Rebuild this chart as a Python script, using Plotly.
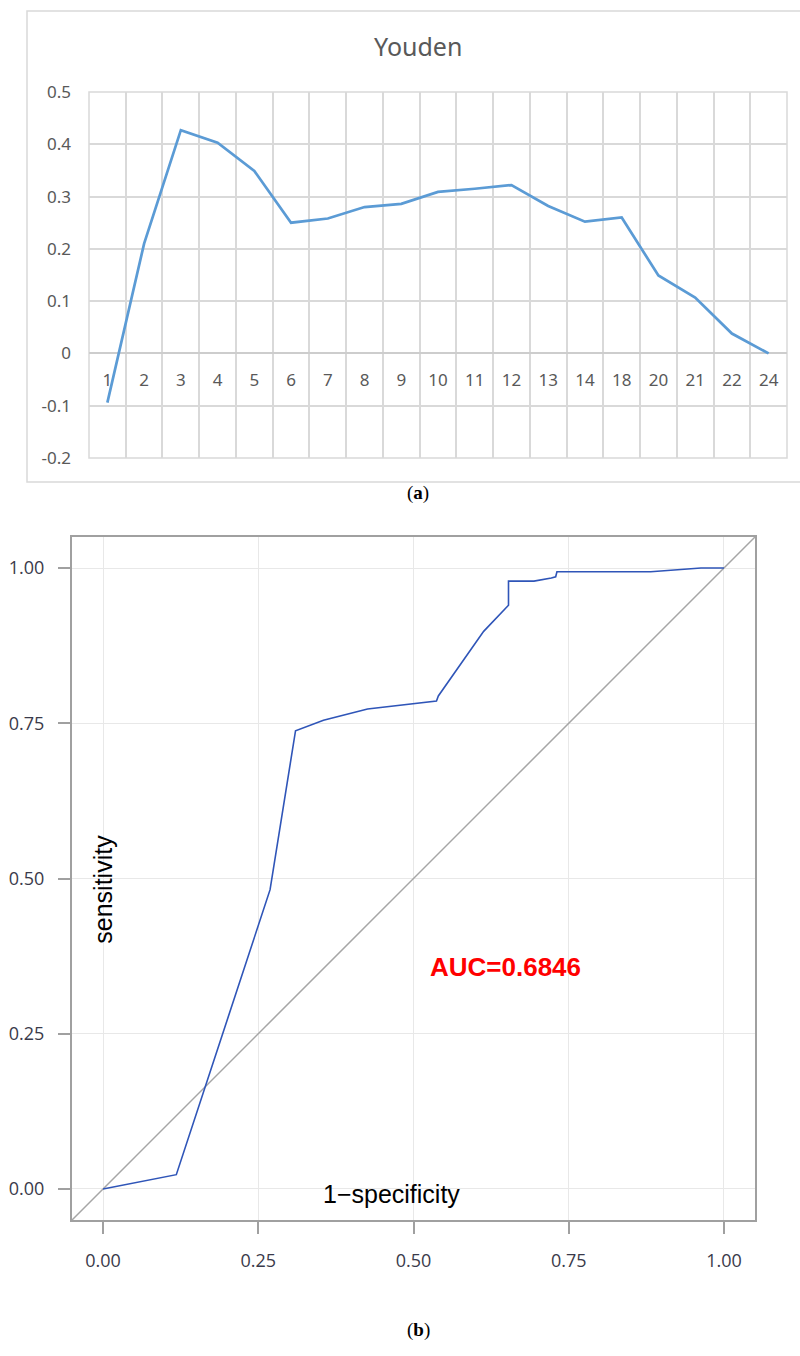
import plotly.graph_objects as go

# ---- Youden chart data ----
youden_cats = ["1", "2", "3", "4", "5", "6", "7", "8", "9", "10", "11", "12",
               "13", "14", "18", "20", "21", "22", "24"]
youden_vals = [-0.094, 0.21, 0.427, 0.403, 0.349, 0.25, 0.258, 0.28, 0.286,
               0.309, 0.315, 0.322, 0.282, 0.252, 0.26, 0.149, 0.107, 0.038, 0.0]
youden_yticks = [0.5, 0.4, 0.3, 0.2, 0.1, 0.0, -0.1, -0.2]
youden_yticktext = ["0.5", "0.4", "0.3", "0.2", "0.1", "0", "-0.1", "-0.2"]

# ---- ROC data ----
roc_fpr = [0, 0.118, 0.269, 0.310, 0.355, 0.426, 0.537, 0.540, 0.613, 0.653,
           0.653, 0.694, 0.722, 0.729, 0.731, 0.847, 0.882, 0.963, 1.0]
roc_tpr = [0, 0.023, 0.482, 0.738, 0.755, 0.773, 0.786, 0.794, 0.898, 0.940,
           0.979, 0.979, 0.984, 0.986, 0.994, 0.994, 0.994, 1.0, 1.0]
diag = [-0.05, 1.05]
roc_ticks = [0.0, 0.25, 0.5, 0.75, 1.0]
roc_ticktext = ["0.00", "0.25", "0.50", "0.75", "1.00"]

W, H = 800, 1356

def px_x(p):
    return p / W

def px_y(p):
    return 1 - p / H

fig = go.Figure()

fig.add_trace(go.Scatter(x=youden_cats, y=youden_vals, mode="lines",
                         line=dict(color="#5B9BD5", width=2.7),
                         xaxis="x", yaxis="y", showlegend=False))

fig.add_trace(go.Scatter(x=diag, y=diag, mode="lines",
                         line=dict(color="#A6A6A6", width=1.5),
                         xaxis="x2", yaxis="y2", showlegend=False))
fig.add_trace(go.Scatter(x=roc_fpr, y=roc_tpr, mode="lines",
                         line=dict(color="#2F55B8", width=1.6),
                         xaxis="x2", yaxis="y2", showlegend=False))

top_y0, top_y1 = px_y(458), px_y(92)
zero_pos = top_y0 + (0.2 / 0.7) * (top_y1 - top_y0)

grid_top = "#D9D9D9"
tick_font_top = dict(family="Noto Sans", size=17, color="#595959")
tick_font_roc = dict(family="Open Sans", size=18, color="#3A3A4A")

fig.update_layout(
    width=W, height=H,
    margin=dict(l=0, r=0, t=0, b=0, autoexpand=False),
    paper_bgcolor="white", plot_bgcolor="white",
    xaxis=dict(domain=[px_x(89), px_x(787)], type="category",
               categoryorder="array", categoryarray=youden_cats,
               range=[-0.5, len(youden_cats) - 0.5],
               anchor="free", position=zero_pos, automargin=False,
               tickson="boundaries", showgrid=True, gridcolor=grid_top,
               gridwidth=1.5, ticks="", showline=False, zeroline=False,
               tickfont=tick_font_top, ticklabelstandoff=15),
    yaxis=dict(domain=[top_y0, top_y1], range=[-0.2, 0.5], automargin=False,
               tickvals=youden_yticks, ticktext=youden_yticktext,
               showgrid=True, gridcolor=grid_top, gridwidth=1.5,
               zeroline=True, zerolinecolor="#CDCDCD", zerolinewidth=1.8,
               ticks="", showline=False, tickfont=tick_font_top,
               ticklabelstandoff=17, anchor="x"),
    xaxis2=dict(domain=[px_x(72), px_x(755)], range=[-0.05, 1.05], automargin=False,
                tickvals=roc_ticks, ticktext=roc_ticktext,
                showgrid=True, gridcolor="#E8E8E8", gridwidth=1.2,
                zeroline=False, showline=True, mirror=True,
                linecolor="#A0A0A0", linewidth=2,
                ticks="outside", ticklen=12, tickwidth=1.5, tickcolor="#A0A0A0",
                tickfont=tick_font_roc, ticklabelstandoff=11, anchor="y2"),
    yaxis2=dict(domain=[px_y(1220), px_y(537)], range=[-0.05, 1.05], automargin=False,
                tickvals=roc_ticks, ticktext=roc_ticktext,
                showgrid=True, gridcolor="#E8E8E8", gridwidth=1.2,
                zeroline=False, showline=True, mirror=True,
                linecolor="#A0A0A0", linewidth=2,
                ticks="outside", ticklen=12, tickwidth=1.5, tickcolor="#A0A0A0",
                tickfont=tick_font_roc, ticklabelstandoff=10, anchor="x2"),
    shapes=[
        dict(type="rect", xref="paper", yref="paper",
             x0=px_x(27), x1=1.02, y0=px_y(482), y1=px_y(11),
             line=dict(color="#D9D9D9", width=1.5), layer="below"),
        dict(type="rect", xref="x domain", yref="y domain",
             x0=0, x1=1, y0=0, y1=1,
             line=dict(color=grid_top, width=1.5), layer="below"),
    ],
    annotations=[
        dict(text="Youden", xref="paper", yref="paper", x=px_x(418), y=px_y(46),
             showarrow=False, xanchor="center", yanchor="middle",
             font=dict(family="Noto Sans", size=25, color="#595959")),
        dict(text="(<b>a</b>)", xref="paper", yref="paper", x=px_x(418), y=px_y(493),
             showarrow=False, xanchor="center", yanchor="middle",
             font=dict(family="Liberation Serif", size=19, color="black")),
        dict(text="(<b>b</b>)", xref="paper", yref="paper", x=px_x(418), y=px_y(1330),
             showarrow=False, xanchor="center", yanchor="middle",
             font=dict(family="Liberation Serif", size=19, color="black")),
        dict(text="sensitivity", xref="x2", yref="y2", x=0.0, y=0.482,
             textangle=-90, showarrow=False, xanchor="center", yanchor="middle",
             font=dict(family="Liberation Sans", size=25, color="black")),
        dict(text="1\u2212specificity", xref="x2", yref="y2", x=0.465, y=-0.008,
             showarrow=False, xanchor="center", yanchor="middle",
             font=dict(family="Liberation Sans", size=25, color="black")),
        dict(text="<b>AUC=0.6846</b>", xref="x2", yref="y2", x=0.648, y=0.358,
             showarrow=False, xanchor="center", yanchor="middle",
             font=dict(family="Liberation Sans", size=26, color="#FF0000")),
    ],
)

fig.write_html("out.html", config={"displayModeBar": False},
               post_script="document.body.style.margin='0';")
